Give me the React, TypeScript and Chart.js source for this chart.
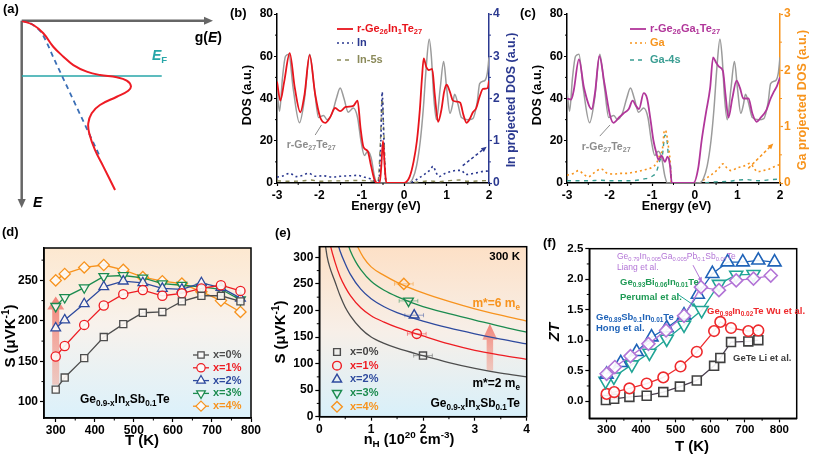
import React, { useEffect, useRef } from 'react';
import { Chart, registerables } from 'chart.js';

Chart.register(...registerables);

const W = 813;
const H = 455;
const FONT = "'Liberation Sans', Arial, Helvetica, sans-serif";
Chart.defaults.font.family = FONT;
Chart.defaults.color = '#000';

// ---------------- (a) schematic ----------------
const gRed = [0, 0.061, 0.113, 0.165, 0.218, 0.27, 0.34, 0.409, 0.497, 0.549, 0.571, 0.557, 0.497, 0.409, 0.366, 0.348, 0.353, 0.383, 0.427, 0.488];
const eRed = [0, 0.023, 0.067, 0.139, 0.192, 0.237, 0.272, 0.29, 0.302, 0.32, 0.349, 0.374, 0.406, 0.45, 0.494, 0.548, 0.601, 0.69, 0.779, 0.904];
const gParabolic = [0, 0.052, 0.105, 0.174, 0.409];
const eParabolic = [0, 0.018, 0.067, 0.215, 0.726];
const gFermi = [0, 0.732];
const eFermi = [0.295, 0.295];

// ---------------- (b)/(c) DOS ----------------
const eGeTe = [-3.0, -2.94, -2.87, -2.8, -2.72, -2.62, -2.47, -2.35, -2.23, -2.12, -2.02, -1.9, -1.82, -1.7, -1.6, -1.51, -1.42, -1.32, -1.2, -1.1, -1.02, -0.94, -0.86, -0.78, -0.7, -0.64, 0.1, 0.2, 0.29, 0.38, 0.45, 0.52, 0.59, 0.64, 0.7, 0.76, 0.85, 0.93, 1.0, 1.08, 1.14, 1.19, 1.26, 1.35, 1.5, 1.62, 1.72, 1.78, 1.9, 1.96, 2.0];
const dosGeTe = [44, 34, 50, 60, 61, 45, 28.5, 40, 61, 45, 31, 32, 30, 33, 40, 45, 40, 33.5, 35.5, 31, 20, 13, 15, 12, 3, 0, 0, 2, 8, 20, 35, 55, 68, 60, 40, 30, 45, 57.5, 45, 33, 37, 42, 38, 31, 30, 30.5, 38, 47, 48.5, 52, 59.5];

const eInDoped = [-3.0, -2.92, -2.83, -2.7, -2.58, -2.45, -2.35, -2.23, -2.1, -1.98, -1.86, -1.75, -1.63, -1.51, -1.38, -1.2, -1.1, -1.03, -0.96, -0.86, -0.78, -0.7, -0.64, -0.58, -0.54, -0.5, -0.46, -0.42, -0.05, 0.05, 0.13, 0.22, 0.3, 0.37, 0.42, 0.46, 0.52, 0.58, 0.66, 0.72, 0.8, 0.88, 0.94, 1.0, 1.08, 1.15, 1.25, 1.32, 1.4, 1.47, 1.55, 1.62, 1.7, 1.78, 1.86, 1.97, 2.0];
const dosInDoped = [48, 39, 48, 61.5, 45, 33.5, 42, 60.5, 42, 31, 28.5, 31, 35.5, 34, 36, 36.5, 39, 26, 17, 15, 8, 1.5, 0, 0, 8, 20, 8, 0, 0, 0.5, 3, 10, 20, 35, 50, 59, 55, 53.5, 54, 42, 29, 35, 43, 46.5, 43, 39, 38.5, 38, 32, 28.5, 30.5, 33.5, 35.5, 41, 44.5, 45, 48.5];

const eInProj = [-3, -2.85, -2.7, -2.55, -2.4, -2.25, -2.1, -1.9, -1.7, -1.5, -1.3, -1.1, -0.95, -0.8, -0.7, -0.6, -0.55, -0.52, -0.48, -0.44, -0.4, 0.1, 0.2, 0.35, 0.5, 0.62, 0.68, 0.75, 0.82, 0.95, 1.1, 1.25, 1.35, 1.45, 1.6, 1.75, 1.9, 2.0];
const pdosIn = [0.14, 0.17, 0.23, 0.15, 0.18, 0.23, 0.16, 0.17, 0.14, 0.16, 0.17, 0.18, 0.14, 0.1, 0.05, 0.05, 1.0, 2.15, 1.0, 0.1, 0, 0, 0.03, 0.12, 0.22, 0.32, 0.4, 0.25, 0.15, 0.22, 0.27, 0.3, 0.3, 0.2, 0.22, 0.25, 0.28, 0.28];

const eIn5s = [-3, -2.7, -2.4, -2.2, -2, -1.7, -1.4, -1.1, -0.8, -0.62, -0.56, -0.52, -0.48, -0.43, 0.1, 0.3, 0.6, 0.8, 1.0, 1.3, 1.5, 1.8, 2.0];
const pdosIn5s = [0.05, 0.04, 0.05, 0.07, 0.04, 0.05, 0.05, 0.06, 0.05, 0.03, 1.0, 2.0, 1.2, 0, 0, 0.02, 0.05, 0.03, 0.05, 0.07, 0.04, 0.05, 0.06];

const eGaDoped = [-3.0, -2.9, -2.84, -2.72, -2.6, -2.42, -2.34, -2.24, -2.12, -1.99, -1.91, -1.78, -1.67, -1.55, -1.46, -1.38, -1.31, -1.2, -1.12, -1.04, -0.97, -0.9, -0.85, -0.78, -0.7, -0.64, -0.58, -0.54, -0.03, 0.08, 0.16, 0.26, 0.36, 0.43, 0.5, 0.57, 0.66, 0.72, 0.79, 0.88, 0.98, 1.06, 1.14, 1.26, 1.35, 1.45, 1.55, 1.68, 1.78, 1.85, 1.93, 2.0];
const dosGaDoped = [40, 39.5, 44, 58.5, 45, 35, 43, 60, 47, 32, 28.5, 31, 33, 35, 39, 36.5, 35, 42.5, 40, 30, 20, 14, 11, 13, 10, 12.5, 8, 0, 0, 7, 20, 33, 45, 59.5, 57, 55, 53, 42, 31, 40, 48.5, 45, 40, 40, 33, 29, 31, 34.5, 40, 43, 46, 50];

const eGaProj = [-3, -2.85, -2.73, -2.6, -2.5, -2.35, -2.2, -2.05, -1.9, -1.75, -1.6, -1.45, -1.3, -1.15, -1.0, -0.9, -0.82, -0.76, -0.71, -0.67, -0.62, -0.58, -0.55, 0.1, 0.2, 0.3, 0.45, 0.55, 0.66, 0.75, 0.85, 1.0, 1.15, 1.3, 1.4, 1.47, 1.6, 1.75, 1.9, 2.0];
const pdosGa = [0.14, 0.17, 0.22, 0.15, 0.11, 0.19, 0.25, 0.17, 0.16, 0.17, 0.17, 0.19, 0.21, 0.24, 0.28, 0.35, 0.5, 0.6, 0.94, 0.9, 0.65, 0.4, 0, 0, 0.05, 0.1, 0.18, 0.25, 0.34, 0.27, 0.22, 0.27, 0.3, 0.35, 0.25, 0.2, 0.22, 0.25, 0.3, 0.33];

const eGa4s = [-3, -2.5, -2.2, -2.0, -1.5, -1.2, -1.0, -0.9, -0.82, -0.76, -0.7, -0.66, -0.62, -0.57, -0.54, 0.1, 0.5, 0.8, 1.0, 1.2, 1.5, 1.8, 2.0];
const pdosGa4s = [0.04, 0.04, 0.05, 0.04, 0.04, 0.07, 0.12, 0.2, 0.4, 0.5, 0.85, 0.8, 0.5, 0.3, 0, 0, 0.02, 0.03, 0.05, 0.06, 0.04, 0.06, 0.07];

const energyTicks = [-3, -2, -1, 0, 1, 2];
const energyMinor = [-2.5, -1.5, -0.5, 0.5, 1.5];
const dosTicks = [0, 20, 40, 60, 80];
const dosMinor = [10, 30, 50, 70];
const pdosInTicks = [0, 1, 2, 3, 4];
const pdosInMinor = [0.5, 1.5, 2.5, 3.5];
const pdosGaTicks = [0, 1, 2, 3];
const pdosGaMinor = [0.5, 1.5, 2.5];

// ---------------- (d) Seebeck vs T ----------------
const tempsD = [300, 323, 373, 423, 473, 523, 573, 623, 673, 723, 773];
const seebeckX0 = [115, 130, 154, 180, 196, 210, 211, 224, 231, 231, 224];
const seebeckX1 = [156, 169, 195, 219, 233, 238, 231, 234, 240, 244, 237];
const seebeckX2 = [191, 201, 221, 242, 249, 247, 240, 239, 247, 241, 228];
const seebeckX3 = [218, 229, 241, 255, 256, 253, 246, 244, 242, 239, 226];
const seebeckX4 = [250, 258, 266, 269, 263, 254, 249, 246, 236, 225, 211];
const compLabels = ['x=0%', 'x=1%', 'x=2%', 'x=3%', 'x=4%'];
const tempTicksD = [300, 400, 500, 600, 700, 800];
const tempMinorD = [350, 450, 550, 650, 750];
const seebeckTicks = [100, 150, 200, 250];
const seebeckMinor = [125, 175, 225, 275];

// ---------------- (e) Pisarenko ----------------
const nH_m2 = [0.1, 0.15, 0.2, 0.3, 0.4, 0.5, 0.6, 0.8, 1.0, 1.25, 1.5, 2.0, 2.5, 3.0, 3.5, 4.0];
const S_m2 = [335, 302, 282, 255, 228, 206, 190, 166, 150, 138, 129, 115, 102, 91, 82, 75];
const nH_m3 = [0.18, 0.22, 0.3, 0.4, 0.5, 0.6, 0.8, 1.0, 1.25, 1.5, 2.0, 2.5, 3.0, 3.5, 4.0];
const S_m3 = [340, 320, 292, 264, 244, 228, 205, 190, 178, 168, 152, 137, 125, 116, 108];
const nH_m4 = [0.33, 0.4, 0.5, 0.6, 0.8, 1.0, 1.25, 1.5, 2.0, 2.5, 3.0, 3.5, 4.0];
const S_m4 = [335, 312, 288, 268, 240, 222, 207, 196, 180, 167, 156, 146, 137];
const nH_m5 = [0.52, 0.6, 0.7, 0.8, 1.0, 1.25, 1.5, 2.0, 2.5, 3.0, 3.5, 4.0];
const S_m5 = [335, 312, 292, 277, 255, 238, 226, 207, 194, 182, 170, 159];
const nH_m6 = [0.68, 0.75, 0.85, 1.0, 1.25, 1.5, 2.0, 2.5, 3.0, 3.5, 4.0];
const S_m6 = [335, 318, 300, 282, 266, 253, 233, 217, 203, 191, 180];
const nHMeasured = [2.0, 1.88, 1.83, 1.72, 1.63];
const sMeasured = [115, 156, 191, 218, 250];
const nHError = [0.18, 0.18, 0.18, 0.18, 0.18];
const nHTicks = [0, 1, 2, 3, 4];
const nHMinor = [0.5, 1.5, 2.5, 3.5];
const sTicksE = [0, 50, 100, 150, 200, 250, 300];
const sMinorE = [25, 75, 125, 175, 225, 275];

// ---------------- (f) ZT ----------------
const tLi = [298, 322, 366, 416, 464, 512, 561, 611, 629, 660, 710, 739];
const ztLi = [0.02, 0.04, 0.07, 0.09, 0.15, 0.24, 0.34, 0.58, 0.71, 0.97, 0.98, 1.0];
const tWu = [300, 322, 366, 416, 464, 514, 561, 611, 629, 660, 710, 739];
const ztWu = [0.12, 0.15, 0.21, 0.29, 0.39, 0.57, 0.81, 1.15, 1.3, 1.2, 1.15, 1.16];
const tHong = [300, 341, 387, 430, 474, 524, 564, 606, 650, 694, 739, 786];
const ztHong = [0.44, 0.63, 0.81, 1.05, 1.2, 1.41, 1.75, 2.09, 2.28, 2.28, 2.31, 2.28];
const tLiang = [300, 324, 369, 421, 472, 524, 573, 625, 675, 725, 775];
const ztLiang = [0.45, 0.56, 0.74, 0.94, 1.16, 1.4, 1.87, 1.82, 1.98, 2.01, 2.06];
const tPerumal = [297, 321, 373, 424, 474, 524, 575, 625, 675, 725];
const ztPerumal = [0.33, 0.4, 0.6, 0.79, 1.02, 1.25, 1.49, 1.92, 2.07, 2.08];
const tTicksF = [300, 400, 500, 600, 700, 800];
const tMinorF = [350, 450, 550, 650, 750];
const ztTicks = [0, 0.5, 1.0, 1.5, 2.0, 2.5];
const ztMinor = [0.25, 0.75, 1.25, 1.75, 2.25];

// ---------------- colours ----------------
const cRedDos = '#e8141c';
const cGray = '#9b9b9b';
const cIn = '#2b3990';
const cIn5s = '#8b8a5a';
const cPurple = '#b1369a';
const cOrange = '#f7941d';
const cTeal = '#3a9d92';
const seriesColors = ['#4d4d4d', '#ee1d23', '#2e4a9e', '#1b8b4f', '#f7931e'];
const markerStyles = ['rect', 'circle', 'triangle', 'triangle', 'rectRot'];
const markerRot = [0, 0, 0, 180, 0];
const markerR = [5, 4.6, 5.6, 5.6, 5.6];

// ---------------- helpers ----------------
const zip = (xs: number[], ys: number[]) => xs.map((x, i) => ({ x, y: ys[i] }));

type Seg = { t: string; sub: number; it: boolean };
function parseRich(s: string): Seg[] {
  const out: Seg[] = [];
  let buf = '';
  let i = 0;
  const flush = () => {
    if (buf) { out.push({ t: buf, sub: 0, it: false }); buf = ''; }
  };
  while (i < s.length) {
    const c = s[i];
    if ((c === '_' || c === '^' || c === '~') && s[i + 1] === '{') {
      flush();
      const j = s.indexOf('}', i);
      out.push({ t: s.slice(i + 2, j), sub: c === '_' ? 1 : c === '^' ? -1 : 0, it: c === '~' });
      i = j + 1;
    } else {
      buf += c;
      i++;
    }
  }
  flush();
  return out;
}

function txt(ctx: any, s: string, x: number, y: number, o: any = {}) {
  const size = o.size || 12;
  const weight = o.weight || 'bold';
  const segs = parseRich(s);
  const fontFor = (g: Seg) => `${g.it || o.italic ? 'italic ' : ''}${weight} ${g.sub ? size * 0.68 : size}px ${FONT}`;
  let total = 0;
  const widths = segs.map((g) => {
    ctx.font = fontFor(g);
    const w = ctx.measureText(g.t).width;
    total += w;
    return w;
  });
  let cx = o.align === 'center' ? x - total / 2 : o.align === 'right' ? x - total : x;
  ctx.save();
  ctx.fillStyle = o.color || '#000';
  ctx.textBaseline = 'middle';
  ctx.textAlign = 'left';
  segs.forEach((g, i) => {
    ctx.font = fontFor(g);
    const dy = g.sub === 1 ? size * 0.3 : g.sub === -1 ? -size * 0.35 : 0;
    ctx.fillText(g.t, cx, y + dy);
    cx += widths[i];
  });
  ctx.restore();
}

function rtxt(ctx: any, s: string, x: number, y: number, o: any = {}) {
  ctx.save();
  ctx.translate(x, y);
  ctx.rotate(-Math.PI / 2);
  txt(ctx, s, 0, 0, { ...o, align: 'center' });
  ctx.restore();
}

function seg(ctx: any, x1: number, y1: number, x2: number, y2: number, color: string, lw: number, dash: number[] = []) {
  ctx.save();
  ctx.strokeStyle = color;
  ctx.lineWidth = lw;
  ctx.setLineDash(dash);
  ctx.beginPath();
  ctx.moveTo(x1, y1);
  ctx.lineTo(x2, y2);
  ctx.stroke();
  ctx.restore();
}

function arrowLine(ctx: any, x1: number, y1: number, x2: number, y2: number, color: string, lw: number, head: number, dash: number[] = []) {
  const a = Math.atan2(y2 - y1, x2 - x1);
  seg(ctx, x1, y1, x2 - Math.cos(a) * head * 0.7, y2 - Math.sin(a) * head * 0.7, color, lw, dash);
  ctx.save();
  ctx.fillStyle = color;
  ctx.beginPath();
  ctx.moveTo(x2, y2);
  ctx.lineTo(x2 - head * Math.cos(a) + head * 0.45 * Math.sin(a), y2 - head * Math.sin(a) - head * 0.45 * Math.cos(a));
  ctx.lineTo(x2 - head * Math.cos(a) - head * 0.45 * Math.sin(a), y2 - head * Math.sin(a) + head * 0.45 * Math.cos(a));
  ctx.closePath();
  ctx.fill();
  ctx.restore();
}

function fatArrow(ctx: any, x: number, yBottom: number, yTop: number, shaftW: number, headW: number, headH: number) {
  ctx.save();
  const g = ctx.createLinearGradient(0, yBottom, 0, yTop);
  g.addColorStop(0, 'rgba(245,150,130,0.45)');
  g.addColorStop(1, 'rgba(238,85,75,0.7)');
  ctx.fillStyle = g;
  ctx.beginPath();
  ctx.moveTo(x - shaftW / 2, yBottom);
  ctx.lineTo(x - shaftW / 2, yTop + headH);
  ctx.lineTo(x - headW / 2, yTop + headH);
  ctx.lineTo(x, yTop);
  ctx.lineTo(x + headW / 2, yTop + headH);
  ctx.lineTo(x + shaftW / 2, yTop + headH);
  ctx.lineTo(x + shaftW / 2, yBottom);
  ctx.closePath();
  ctx.fill();
  ctx.restore();
}

function mark(ctx: any, style: string, x: number, y: number, r: number, rotDeg: number, stroke: string, fill: string, lw: number) {
  ctx.save();
  ctx.strokeStyle = stroke;
  ctx.fillStyle = fill;
  ctx.lineWidth = lw;
  ctx.beginPath();
  let rad = (rotDeg * Math.PI) / 180;
  if (style === 'rect') {
    const s = Math.SQRT1_2 * r;
    ctx.rect(x - s, y - s, 2 * s, 2 * s);
  } else if (style === 'circle') {
    ctx.arc(x, y, r, 0, Math.PI * 2);
  } else if (style === 'triangle') {
    ctx.moveTo(x + Math.sin(rad) * r, y - Math.cos(rad) * r);
    rad += (2 * Math.PI) / 3;
    ctx.lineTo(x + Math.sin(rad) * r, y - Math.cos(rad) * r);
    rad += (2 * Math.PI) / 3;
    ctx.lineTo(x + Math.sin(rad) * r, y - Math.cos(rad) * r);
    ctx.closePath();
  } else {
    ctx.moveTo(x - r, y);
    ctx.lineTo(x, y - r);
    ctx.lineTo(x + r, y);
    ctx.lineTo(x, y + r);
    ctx.closePath();
  }
  ctx.fill();
  ctx.stroke();
  ctx.restore();
}

function minorTicks(ctx: any, chart: any, id: string, vals: number[], len: number, color = '#000') {
  const s = chart.scales[id];
  const a = chart.chartArea;
  ctx.save();
  ctx.strokeStyle = color;
  ctx.lineWidth = 1;
  ctx.beginPath();
  vals.forEach((v) => {
    const p = s.getPixelForValue(v);
    if (s.position === 'bottom') { ctx.moveTo(p, a.bottom); ctx.lineTo(p, a.bottom + len); }
    else if (s.position === 'left') { ctx.moveTo(a.left, p); ctx.lineTo(a.left - len, p); }
    else { ctx.moveTo(a.right, p); ctx.lineTo(a.right + len, p); }
  });
  ctx.stroke();
  ctx.restore();
}

function frame(ctx: any, chart: any, lw = 1.5) {
  const a = chart.chartArea;
  ctx.save();
  ctx.strokeStyle = '#000';
  ctx.lineWidth = lw;
  ctx.strokeRect(a.left, a.top, a.right - a.left, a.bottom - a.top);
  ctx.restore();
}

function bgGradient(ctx: any, chart: any, stops: [number, string][]) {
  const a = chart.chartArea;
  const g = ctx.createLinearGradient(0, a.top, 0, a.bottom);
  stops.forEach(([p, c]) => g.addColorStop(p, c));
  ctx.save();
  ctx.fillStyle = g;
  ctx.fillRect(a.left, a.top, a.right - a.left, a.bottom - a.top);
  ctx.restore();
}

const pad = (L: number, T: number, R: number, B: number, wl: number, hb: number, wr: number) => ({
  left: L - wl, top: T, right: W - R - wr, bottom: H - B - hb,
});

function axis(o: any) {
  const vertical = o.pos === 'left' || o.pos === 'right';
  const color = o.color || '#000';
  return {
    type: 'linear',
    position: o.pos,
    min: o.min,
    max: o.max,
    afterFit: (s: any) => { if (vertical) s.width = o.size; else s.height = o.size; },
    afterBuildTicks: (s: any) => { s.ticks = o.ticks.map((v: number) => ({ value: v })); },
    grid: { display: true, drawOnChartArea: false, drawTicks: true, tickLength: o.tl ?? 4, tickColor: color, tickWidth: 1.2, color },
    border: { display: true, color, width: o.bw ?? 1.5 },
    ticks: {
      display: true, color, padding: o.tp ?? 2, maxRotation: 0, minRotation: 0, autoSkip: false,
      font: { family: FONT, size: o.fs ?? 12, weight: 'bold' },
      callback: o.fmt || ((v: number) => String(v)),
    },
  };
}

const common = {
  responsive: false,
  maintainAspectRatio: false,
  animation: false,
  events: [],
  plugins: { legend: { display: false }, tooltip: { enabled: false } },
};

function curve(data: any[], color: string, width: number, dash: number[] = [], axisId = 'y') {
  return {
    data, borderColor: color, backgroundColor: color, borderWidth: width, borderDash: dash,
    pointRadius: 0, cubicInterpolationMode: 'monotone', fill: false, yAxisID: axisId,
  };
}

// ---------------- panel builders ----------------
const buildA = (c: HTMLCanvasElement) => new Chart(c as any, {
  type: 'line',
  data: {
    datasets: [
      { data: zip(gRed, eRed), borderColor: '#ee1c25', borderWidth: 2, pointRadius: 0, tension: 0.4, fill: false },
      { data: zip(gParabolic, eParabolic), borderColor: '#3b6fb6', borderWidth: 1.8, borderDash: [5, 4], pointRadius: 0, tension: 0.3, fill: false },
      { data: zip(gFermi, eFermi), borderColor: '#27a6a8', borderWidth: 1.5, pointRadius: 0, fill: false },
    ],
  },
  options: {
    ...common,
    layout: { padding: { left: 21.7, top: 20.7, right: W - 213, bottom: H - 208 } },
    scales: {
      x: { type: 'linear', display: false, min: 0, max: 1 },
      y: { type: 'linear', display: false, min: 0, max: 1, reverse: true },
    },
  } as any,
  plugins: [{
    id: 'decoA',
    beforeDatasetsDraw(chart: any) {
      const ctx = chart.ctx;
      const a = chart.chartArea;
      arrowLine(ctx, a.left, a.top, a.right, a.top, '#666', 2.5, 9);
      arrowLine(ctx, a.left, a.top, a.left, a.bottom, '#666', 2.5, 9);
    },
    afterDraw(chart: any) {
      const ctx = chart.ctx;
      txt(ctx, '(a)', 3, 9, { size: 13 });
      txt(ctx, 'g(~{E})', 222, 38, { size: 14, align: 'right' });
      txt(ctx, '~{E}_{F}', 152, 56, { size: 14, color: '#27a6a8' });
      txt(ctx, '~{E}', 33, 203, { size: 14 });
    },
  }],
} as any);

function buildDos(c: HTMLCanvasElement, v: any) {
  return new Chart(c as any, {
    type: 'line',
    data: {
      datasets: [
        curve(zip(v.eDoped, v.dosDoped), v.col, 1.8),
        curve(zip(eGeTe, dosGeTe), cGray, 1.5),
        curve(zip(v.eProj, v.pdos), v.projCol, 1.6, [2, 3], 'y2'),
        curve(zip(v.eS, v.pdosS), v.sCol, 1.4, [4, 4.5], 'y2'),
      ],
    },
    options: {
      ...common,
      layout: { padding: pad(v.L, 14, v.R, 183, 30, 22, 22) },
      scales: {
        x: axis({ pos: 'bottom', min: -3, max: 2, size: 22, ticks: energyTicks, tl: 3, tp: 2 }),
        y: axis({ pos: 'left', min: 0, max: 80, size: 30, ticks: dosTicks, tl: 3, tp: 1 }),
        y2: axis({ pos: 'right', min: 0, max: v.rMax, size: 22, ticks: v.rTicks, tl: 3, tp: 1, color: v.rCol }),
      },
    } as any,
    plugins: [{
      id: 'decoDos',
      afterDraw(chart: any) {
        const ctx = chart.ctx;
        const X = chart.scales.x;
        const Y = chart.scales.y;
        const Y2 = chart.scales.y2;
        minorTicks(ctx, chart, 'x', energyMinor, 2);
        minorTicks(ctx, chart, 'y', dosMinor, 2);
        minorTicks(ctx, chart, 'y2', v.rMinor, 2, v.rCol);
        txt(ctx, v.panel, v.L - 47, 13, { size: 13 });
        rtxt(ctx, 'DOS (a.u.)', v.L - 29, 95, { size: 12.5 });
        rtxt(ctx, v.rTitle, v.R + 23, 100, { size: 12.5, color: v.rCol });
        txt(ctx, 'Energy (eV)', (v.L + v.R) / 2 + 3, 207, { size: 12.5, align: 'center' });
        const lx = v.legX;
        seg(ctx, lx, 29, lx + 16, 29, v.col, 1.8);
        txt(ctx, v.legDoped, lx + 20, 29, { size: 11, color: v.col });
        seg(ctx, lx, 43, lx + 16, 43, v.projCol, 1.6, [2, 3]);
        txt(ctx, v.legProj, lx + 20, 43, { size: 11, color: v.projCol });
        seg(ctx, lx, 60, lx + 16, 60, v.sCol, 1.4, [4, 4]);
        txt(ctx, v.legS, lx + 20, 60, { size: 11, color: v.sCol });
        txt(ctx, 'r-Ge_{27}Te_{27}', X.getPixelForValue(v.grayLbl[0]), Y.getPixelForValue(v.grayLbl[1]), { size: 10.5, color: '#8c8c8c' });
        seg(ctx, X.getPixelForValue(v.grayPtr[0]), Y.getPixelForValue(v.grayPtr[1]), X.getPixelForValue(v.grayPtr[2]), Y.getPixelForValue(v.grayPtr[3]), '#8c8c8c', 1);
        arrowLine(ctx, X.getPixelForValue(v.arr[0]), Y2.getPixelForValue(v.arr[1]), X.getPixelForValue(v.arr[2]), Y2.getPixelForValue(v.arr[3]), v.projCol, 1.5, 5.5, [3, 2.5]);
      },
    }],
  } as any);
}

const buildB = (c: HTMLCanvasElement) => buildDos(c, {
  L: 277, R: 489, panel: '(b)', col: cRedDos, projCol: cIn, sCol: cIn5s, rCol: cIn,
  eDoped: eInDoped, dosDoped: dosInDoped, eProj: eInProj, pdos: pdosIn, eS: eIn5s, pdosS: pdosIn5s,
  rMax: 4, rTicks: pdosInTicks, rMinor: pdosInMinor, rTitle: 'In projected DOS (a.u.)',
  legX: 337, legDoped: 'r-Ge_{26}In_{1}Te_{27}', legProj: 'In', legS: 'In-5s',
  grayLbl: [-2.77, 18], grayPtr: [-2.1, 22.7, -1.95, 27.5], arr: [1.38, 0.41, 1.945, 0.86],
});

const buildC = (c: HTMLCanvasElement) => buildDos(c, {
  L: 567, R: 780, panel: '(c)', col: cPurple, projCol: cOrange, sCol: cTeal, rCol: cOrange,
  eDoped: eGaDoped, dosDoped: dosGaDoped, eProj: eGaProj, pdos: pdosGa, eS: eGa4s, pdosS: pdosGa4s,
  rMax: 3, rTicks: pdosGaTicks, rMinor: pdosGaMinor, rTitle: 'Ga projected DOS (a.u.)',
  legX: 630, legDoped: 'r-Ge_{26}Ga_{1}Te_{27}', legProj: 'Ga', legS: 'Ga-4s',
  grayLbl: [-2.655, 17.2], grayPtr: [-2.23, 22.2, -1.99, 27.5], arr: [1.256, 0.26, 1.843, 0.7],
});

const seebeckSeries = [seebeckX0, seebeckX1, seebeckX2, seebeckX3, seebeckX4];

const buildD = (c: HTMLCanvasElement) => new Chart(c as any, {
  type: 'line',
  data: {
    datasets: seebeckSeries.map((vals, i) => ({
      data: zip(tempsD, vals), borderColor: seriesColors[i], backgroundColor: seriesColors[i], borderWidth: 1.3,
      pointStyle: markerStyles[i], pointRotation: markerRot[i], pointRadius: markerR[i],
      pointBorderColor: seriesColors[i], pointBackgroundColor: 'rgba(253,249,244,0.92)', pointBorderWidth: 1.3,
      tension: 0, fill: false,
    })),
  },
  options: {
    ...common,
    layout: { padding: pad(44, 248, 251, 418, 36, 28, 0) },
    scales: {
      x: axis({ pos: 'bottom', min: 270, max: 800, size: 28, ticks: tempTicksD, tl: 4, tp: 1 }),
      y: axis({ pos: 'left', min: 80, max: 290, size: 36, ticks: seebeckTicks, tl: 4, tp: 2 }),
    },
  } as any,
  plugins: [{
    id: 'decoD',
    beforeDraw(chart: any) {
      bgGradient(chart.ctx, chart, [[0, '#fde8d0'], [0.45, '#f8f2ec'], [1, '#dbf1fb']]);
    },
    beforeDatasetsDraw(chart: any) {
      const X = chart.scales.x;
      const Y = chart.scales.y;
      fatArrow(chart.ctx, X.getPixelForValue(300), Y.getPixelForValue(121), Y.getPixelForValue(230), 7, 17, 13);
    },
    afterDraw(chart: any) {
      const ctx = chart.ctx;
      frame(ctx, chart);
      minorTicks(ctx, chart, 'x', tempMinorD, 2.5);
      minorTicks(ctx, chart, 'y', seebeckMinor, 2.5);
      txt(ctx, '(d)', 2, 232, { size: 13 });
      rtxt(ctx, 'S (μVK^{-1})', 11, 336, { size: 15 });
      txt(ctx, 'T (K)', 142, 441, { size: 15, align: 'center' });
      txt(ctx, 'Ge_{0.9-x}In_{x}Sb_{0.1}Te', 80, 400, { size: 12 });
      compLabels.forEach((lbl, i) => {
        const y = 355 + i * 12.8;
        seg(ctx, 193, y, 209, y, seriesColors[i], 1.3);
        mark(ctx, markerStyles[i], 201, y, markerR[i] * 0.9, markerRot[i], seriesColors[i], '#fafafa', 1.2);
        txt(ctx, lbl, 213, y, { size: 11, color: seriesColors[i] });
      });
    },
  }],
} as any);

const pisarenko = [zip(nH_m2, S_m2), zip(nH_m3, S_m3), zip(nH_m4, S_m4), zip(nH_m5, S_m5), zip(nH_m6, S_m6)];

const buildE = (c: HTMLCanvasElement) => new Chart(c as any, {
  type: 'line',
  data: {
    datasets: [
      ...nHMeasured.map((n, i) => ({
        data: [{ x: n, y: sMeasured[i] }], showLine: false, borderColor: seriesColors[i],
        pointStyle: markerStyles[i], pointRotation: markerRot[i], pointRadius: markerR[i],
        pointBorderColor: seriesColors[i], pointBackgroundColor: 'rgba(255,255,255,0)', pointBorderWidth: 1.4,
      })),
      ...pisarenko.map((d, i) => curve(d, seriesColors[i], 1.3)),
    ],
  },
  options: {
    ...common,
    layout: { padding: pad(319.3, 246.7, 526.7, 416.7, 36, 28, 0) },
    scales: {
      x: axis({ pos: 'bottom', min: 0, max: 4, size: 28, ticks: nHTicks, tl: 4, tp: 2 }),
      y: axis({ pos: 'left', min: 0, max: 320, size: 36, ticks: sTicksE, tl: 4, tp: 2 }),
    },
  } as any,
  plugins: [{
    id: 'decoE',
    beforeDraw(chart: any) {
      bgGradient(chart.ctx, chart, [[0, '#fde0c6'], [0.5, '#f7efe8'], [1, '#d8f0fa']]);
    },
    beforeDatasetsDraw(chart: any) {
      const ctx = chart.ctx;
      const X = chart.scales.x;
      const Y = chart.scales.y;
      fatArrow(ctx, X.getPixelForValue(3.29), Y.getPixelForValue(87), Y.getPixelForValue(175), 6.5, 15, 16);
      nHMeasured.forEach((n, i) => {
        const y = Y.getPixelForValue(sMeasured[i]);
        const x1 = X.getPixelForValue(n - nHError[i]);
        const x2 = X.getPixelForValue(n + nHError[i]);
        const col = seriesColors[i] + '77';
        seg(ctx, x1, y, x2, y, col, 1);
        seg(ctx, x1, y - 2, x1, y + 2, col, 1);
        seg(ctx, x2, y - 2, x2, y + 2, col, 1);
      });
    },
    afterDraw(chart: any) {
      const ctx = chart.ctx;
      frame(ctx, chart);
      minorTicks(ctx, chart, 'x', nHMinor, 2.5);
      minorTicks(ctx, chart, 'y', sMinorE, 2.5);
      txt(ctx, '(e)', 275, 233, { size: 13 });
      rtxt(ctx, 'S (μVK^{-1})', 281, 332, { size: 15 });
      txt(ctx, 'n_{H} (10^{20} cm^{-3})', 409, 440, { size: 14.5, align: 'center' });
      txt(ctx, '300 K', 520, 257, { size: 11.5, align: 'right' });
      txt(ctx, 'm*=6 m_{e}', 520, 304, { size: 12, align: 'right', color: seriesColors[4] });
      txt(ctx, 'm*=2 m_{e}', 520, 384, { size: 12, align: 'right' });
      txt(ctx, 'Ge_{0.9-x}In_{x}Sb_{0.1}Te', 520, 404, { size: 12, align: 'right' });
      compLabels.forEach((lbl, i) => {
        const y = 352 + i * 13.7;
        mark(ctx, markerStyles[i], 337, y, markerR[i] * 0.95, markerRot[i], seriesColors[i], 'rgba(255,255,255,0)', 1.4);
        txt(ctx, lbl, 350, y, { size: 11, color: i === 0 ? '#444' : seriesColors[i] });
      });
    },
  }],
} as any);

const cLi = '#404040';
const cWu = '#ee2a2d';
const cHong = '#1f63b8';
const cLiang = '#b274d6';
const cPerumal = '#21a596';
const cPerumalText = '#1f9a55';

function ztSet(t: number[], zt: number[], color: string, style: string, r: number, rot = 0, lineCol = color) {
  return {
    data: zip(t, zt), borderColor: lineCol, borderWidth: 1.3, tension: 0, fill: false,
    pointStyle: style, pointRadius: r, pointRotation: rot, pointBorderColor: color,
    pointBackgroundColor: 'rgba(255,255,255,0.9)', pointBorderWidth: 1.6,
  };
}

const buildF = (c: HTMLCanvasElement) => new Chart(c as any, {
  type: 'line',
  data: {
    datasets: [
      ztSet(tLiang, ztLiang, cLiang, 'rectRot', 6.5),
      ztSet(tHong, ztHong, cHong, 'triangle', 7.5),
      ztSet(tPerumal, ztPerumal, cPerumal, 'triangle', 7.5, 180),
      ztSet(tWu, ztWu, cWu, 'circle', 5.3),
      ztSet(tLi, ztLi, cLi, 'rect', 6.3, 0, '#4a3f4f'),
    ],
  },
  options: {
    ...common,
    layout: { padding: pad(589.3, 248.7, 796.7, 418.3, 40, 28, 0) },
    scales: {
      x: axis({ pos: 'bottom', min: 250, max: 850, size: 28, ticks: tTicksF, tl: 4, tp: 1, fs: 11.5 }),
      y: axis({ pos: 'left', min: -0.28, max: 2.5, size: 40, ticks: ztTicks, tl: 4, tp: 2, fs: 11.5, fmt: (v: number) => v.toFixed(1) }),
    },
  } as any,
  plugins: [{
    id: 'decoF',
    afterDraw(chart: any) {
      const ctx = chart.ctx;
      const X = chart.scales.x;
      const Y = chart.scales.y;
      frame(ctx, chart);
      minorTicks(ctx, chart, 'x', tMinorF, 2.5);
      minorTicks(ctx, chart, 'y', ztMinor, 2.5);
      txt(ctx, '(f)', 543, 243, { size: 13 });
      rtxt(ctx, '~{ZT}', 555, 332, { size: 15 });
      txt(ctx, 'T (K)', 692, 447, { size: 15, align: 'center' });
      txt(ctx, 'Ge_{0.79}In_{0.005}Ga_{0.005}Pb_{0.1}Sb_{0.07}Te', 617, 257, { size: 8.5, weight: 'normal', color: cLiang });
      txt(ctx, 'Liang et al.', 617, 268, { size: 8.5, weight: 'normal', color: cLiang });
      txt(ctx, 'Ge_{0.93}Bi_{0.06}In_{0.01}Te', 620, 282, { size: 9.5, color: cPerumalText });
      txt(ctx, 'Perumal et al.', 620, 297, { size: 9.5, color: cPerumalText });
      txt(ctx, 'Ge_{0.89}Sb_{0.1}In_{0.01}Te', 596, 317, { size: 9.5, color: cHong });
      txt(ctx, 'Hong et al.', 596, 328, { size: 9.5, color: cHong });
      txt(ctx, 'Ge_{0.98}In_{0.02}Te Wu et al.', 707, 311, { size: 9.5, color: cWu });
      txt(ctx, 'GeTe Li et al.', 733, 358, { size: 9.5, color: '#3d3d3d' });
      arrowLine(ctx, X.getPixelForValue(550), Y.getPixelForValue(2.23), X.getPixelForValue(576), Y.getPixelForValue(1.95), cLiang, 1, 5);
      arrowLine(ctx, X.getPixelForValue(504), Y.getPixelForValue(1.76), X.getPixelForValue(561), Y.getPixelForValue(1.54), cPerumal, 1, 5);
    },
  }],
} as any);

function Panel({ build }: { build: (c: HTMLCanvasElement) => any }) {
  const ref = useRef<HTMLCanvasElement | null>(null);
  useEffect(() => {
    const chart = build(ref.current as HTMLCanvasElement);
    return () => chart.destroy();
  }, [build]);
  return (
    <canvas
      ref={ref}
      width={W}
      height={H}
      style={{ position: 'absolute', left: 0, top: 0, width: W + 'px', height: H + 'px' }}
    />
  );
}

export default function App() {
  return (
    <div style={{ position: 'fixed', left: 0, top: 0, width: W, height: H, background: '#fff', overflow: 'hidden' }}>
      <Panel build={buildA} />
      <Panel build={buildB} />
      <Panel build={buildC} />
      <Panel build={buildD} />
      <Panel build={buildE} />
      <Panel build={buildF} />
    </div>
  );
}
